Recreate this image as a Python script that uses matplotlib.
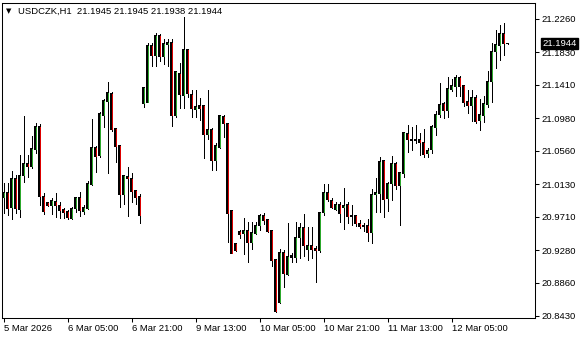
import matplotlib
matplotlib.use("Agg")
import matplotlib.pyplot as plt
import numpy as np

# USDCZK H1 bars, 5 Mar 13:00 .. 12 Mar 19:00
opens = [20.9961, 21.0025, 20.9826, 21.0197, 20.9806, 21.0239, 21.0390, 21.0355, 21.0580, 21.0871,
         20.9977, 20.9896, 20.9852, 20.9900, 20.9861, 20.9797, 20.9775, 20.9690, 20.9810, 20.9955,
         20.9775, 20.9819, 21.0128, 21.0605, 21.0497, 21.1013, 21.1194, 21.1302, 21.0850, 21.0622,
         20.9999, 21.0235, 21.0206, 21.0042, 20.9968, 21.1164, 21.1186, 21.1912, 21.1787, 21.2045,
         21.1774, 21.1929, 21.1960, 21.1013, 21.1560, 21.1271, 21.1860, 21.1289, 21.1099, 21.1138,
         21.1138, 21.0764, 21.0841, 21.0433, 21.0605, 21.1000, 21.0906, 20.9784, 20.9367, 20.9517,
         20.9496, 20.9526, 20.9375, 20.9496, 20.9594, 20.9720, 20.9677, 20.9526, 20.9152, 20.8601,
         20.9251, 20.8971, 20.9187, 20.9187, 20.9445, 20.9574, 20.9281, 20.9342, 20.9294, 20.9268,
         20.9762, 21.0025, 20.9917, 20.9806, 20.9874, 20.9826, 20.9870, 20.9710, 20.9732, 20.9625,
         20.9582, 20.9603, 20.9509, 20.9999, 21.0012, 21.0429, 20.9939, 21.0141, 21.0399, 21.0119,
         21.0270, 21.0786, 21.0687, 21.0691, 21.0700, 21.0670, 21.0528, 21.0571, 21.0863, 21.1022,
         21.1164, 21.1077, 21.1357, 21.1387, 21.1508, 21.1396, 21.1190, 21.1142, 21.1250, 21.0949,
         21.1013, 21.1160, 21.1451, 21.1838, 21.1916, 21.2067, 21.1945]
highs = [21.0141, 21.0141, 21.0300, 21.0248, 21.0506, 21.1009, 21.0506, 21.0751, 21.0923, 21.0906,
         21.0012, 20.9904, 20.9952, 21.0012, 20.9904, 20.9819, 20.9797, 20.9839, 20.9968, 21.0025,
         20.9861, 21.0175, 21.0970, 21.0622, 21.1057, 21.1224, 21.1448, 21.1322, 21.0850, 21.0622,
         21.0248, 21.0348, 21.0270, 21.0055, 20.9999, 21.1379, 21.1954, 21.1954, 21.2076, 21.2063,
         21.1998, 21.2002, 21.2002, 21.1593, 21.1689, 21.2286, 21.1860, 21.1344, 21.1344, 21.1237,
         21.1151, 21.1344, 21.0850, 21.0657, 21.1009, 21.1022, 21.0915, 20.9797, 20.9371, 20.9539,
         20.9690, 20.9646, 20.9646, 20.9646, 20.9745, 20.9754, 20.9677, 20.9526, 20.9152, 20.9290,
         20.9281, 20.9633, 20.9238, 20.9646, 20.9633, 20.9745, 20.9574, 20.9574, 20.9333, 20.9762,
         21.0132, 21.0132, 20.9948, 20.9904, 20.9904, 21.0077, 20.9904, 20.9861, 20.9732, 20.9668,
         20.9625, 20.9677, 21.0064, 21.0206, 21.0476, 21.0442, 21.0162, 21.0493, 21.0420, 21.0291,
         21.0807, 21.0893, 21.0871, 21.0893, 21.0794, 21.0841, 21.0593, 21.0893, 21.1077, 21.1431,
         21.1194, 21.1508, 21.1482, 21.1538, 21.1525, 21.1396, 21.1344, 21.1344, 21.1280, 21.1228,
         21.1267, 21.1589, 21.1947, 21.2118, 21.2183, 21.2205, 21.1945]
lows = [20.9754, 20.9732, 20.9677, 20.9762, 20.9703, 21.0162, 21.0222, 21.0335, 21.0528, 20.9861,
        20.9745, 20.9852, 20.9745, 20.9710, 20.9690, 20.9698, 20.9681, 20.9681, 20.9775, 20.9720,
        20.9745, 20.9806, 21.0119, 21.0283, 21.0484, 21.0871, 21.0278, 21.0819, 21.0412, 20.9839,
        20.9874, 20.9723, 20.9904, 20.9874, 20.9633, 21.1121, 21.1186, 21.1658, 21.1658, 21.1722,
        21.1680, 21.1658, 21.0884, 21.1000, 21.1108, 21.1108, 21.1258, 21.0992, 21.0992, 21.0958,
        21.0464, 21.0712, 21.0313, 21.0313, 21.0593, 21.0742, 20.9388, 20.9238, 20.9268, 20.9440,
        20.9229, 20.9130, 20.9294, 20.9487, 20.9539, 20.9616, 20.9517, 20.9079, 20.8485, 20.8601,
        20.8808, 20.8959, 20.9130, 20.9130, 20.9174, 20.9204, 20.9152, 20.9174, 20.8872, 20.9259,
        20.9732, 20.9917, 20.9819, 20.9797, 20.9636, 20.9548, 20.9625, 20.9603, 20.9591, 20.9561,
        20.9530, 20.9401, 20.9367, 20.9775, 20.9775, 20.9710, 20.9788, 20.9926, 21.0064, 20.9603,
        21.0226, 21.0549, 21.0571, 21.0657, 21.0506, 21.0484, 21.0480, 21.0532, 21.0764, 21.1000,
        21.0979, 21.1000, 21.1335, 21.1267, 21.1267, 21.1142, 21.1052, 21.0949, 21.0915, 21.0829,
        21.0936, 21.1129, 21.1194, 21.1624, 21.1731, 21.1796, 21.1938]
closes = [21.0025, 20.9810, 21.0197, 20.9819, 21.0248, 21.0390, 21.0355, 21.0584, 21.0871, 20.9968,
          20.9775, 20.9861, 20.9913, 20.9861, 20.9788, 20.9762, 20.9703, 20.9819, 20.9955, 20.9788,
          20.9832, 21.0132, 21.0605, 21.0484, 21.1035, 21.1206, 21.1315, 21.0838, 21.0613, 20.9999,
          21.0239, 21.0200, 21.0033, 20.9955, 20.9732, 21.1379, 21.1912, 21.1787, 21.2045, 21.1774,
          21.1938, 21.1960, 21.1013, 21.1580, 21.1280, 21.1860, 21.1293, 21.1108, 21.1129, 21.1108,
          21.0764, 21.0841, 21.0433, 21.0622, 21.1009, 21.0906, 20.9754, 20.9238, 20.9272, 20.9483,
          20.9526, 20.9375, 20.9504, 20.9603, 20.9720, 20.9659, 20.9517, 20.9143, 20.8485, 20.9251,
          20.8981, 20.9195, 20.9204, 20.9445, 20.9574, 20.9333, 20.9342, 20.9281, 20.9272, 20.9762,
          21.0025, 20.9926, 20.9832, 20.9874, 20.9754, 20.9852, 20.9710, 20.9732, 20.9625, 20.9582,
          20.9603, 20.9509, 21.0003, 21.0020, 21.0420, 20.9935, 21.0141, 21.0399, 21.0119, 21.0278,
          21.0794, 21.0700, 21.0712, 21.0712, 21.0670, 21.0515, 21.0562, 21.0867, 21.1022, 21.1151,
          21.1077, 21.1366, 21.1396, 21.1508, 21.1387, 21.1181, 21.1142, 21.1250, 21.0936, 21.1022,
          21.1164, 21.1460, 21.1847, 21.1925, 21.2067, 21.1938, 21.1944]

time_ticks = [0, 16, 32, 48, 64, 80, 96, 112]
time_labels = ["5 Mar 2026", "6 Mar 05:00", "6 Mar 21:00", "9 Mar 13:00",
               "10 Mar 05:00", "10 Mar 21:00", "11 Mar 13:00", "12 Mar 05:00"]
price_ticks = [21.2260, 21.1830, 21.1410, 21.0980, 21.0560,
               21.0130, 20.9710, 20.9280, 20.8860, 20.8430]
symbol = "USDCZK,H1"
last_price = 21.1944

plt.rcParams['font.family'] = ['Liberation Sans', 'DejaVu Sans']

o = np.array(opens)
h = np.array(highs)
l = np.array(lows)
c = np.array(closes)
x = np.arange(len(o))

W, H = 580, 340
fig = plt.figure(figsize=(W / 100, H / 100), dpi=100)
ax = fig.add_axes([2 / W, 22 / H, 533 / W, 315 / H])

ymin, ymax = 20.8404, 21.2466
px = (ymax - ymin) / 315          # price per pixel

up = c >= o
green = '#2ca82c'
red = '#dd0000'

body_lo = np.minimum(o, c)
body_hi = np.maximum(o, c)

# wicks
ax.vlines(x, l, h, color='black', linewidth=0.72, antialiased=False, zorder=2)
# black body outline (3 px wide)
ax.bar(x, body_hi - body_lo + px, bottom=body_lo - px / 2, width=0.75,
       color='black', linewidth=0, antialiased=False, zorder=3)
# coloured core (1 px wide)
tall = (body_hi - body_lo) > 1.5 * px
ax.vlines(x[tall & up], body_lo[tall & up] + px / 2, body_hi[tall & up] - px / 2,
          color=green, linewidth=0.72, antialiased=False, zorder=4)
ax.vlines(x[tall & ~up], body_lo[tall & ~up] + px / 2, body_hi[tall & ~up] - px / 2,
          color=red, linewidth=0.72, antialiased=False, zorder=4)

# bar centres on pixel centres: 4 px per bar, axes 533 px wide
ax.set_xlim(-0.375, -0.375 + 533 / 4)
ax.set_ylim(ymin, ymax)

ax.set_xticks(time_ticks)
ax.set_xticklabels(time_labels, fontsize=6.8)
for t in ax.get_xticklabels():
    t.set_horizontalalignment('left')
ax.tick_params(axis='x', direction='out', length=3, width=0.75, pad=1.5, colors='black')

ax.yaxis.tick_right()
ax.set_yticks(price_ticks)
ax.set_yticklabels([f"{v:.4f}" for v in price_ticks], fontsize=6.8)
ax.tick_params(axis='y', direction='out', length=3, width=0.75, pad=2, colors='black')

for s in ax.spines.values():
    s.set_linewidth(0.75)
    s.set_color('black')

# current price box on the scale
ax.annotate(f"{last_price:.4f}", xy=(1.0, last_price), xycoords=('axes fraction', 'data'),
            xytext=(5.5, 0), textcoords='offset points', ha='left', va='center',
            fontsize=6.8, color='white',
            bbox=dict(boxstyle='square,pad=0.15', facecolor='black', edgecolor='black'))

# header
fig.text(6 / W, 1 - 11.5 / H, "▼", fontsize=5, family='DejaVu Sans', va='center', ha='left')
fig.text(18 / W, 1 - 11 / H,
         f"{symbol}  {opens[-1]:.4f} {highs[-1]:.4f} {lows[-1]:.4f} {closes[-1]:.4f}",
         fontsize=6.8, va='center', ha='left')

fig.savefig("out.png", dpi=100)
